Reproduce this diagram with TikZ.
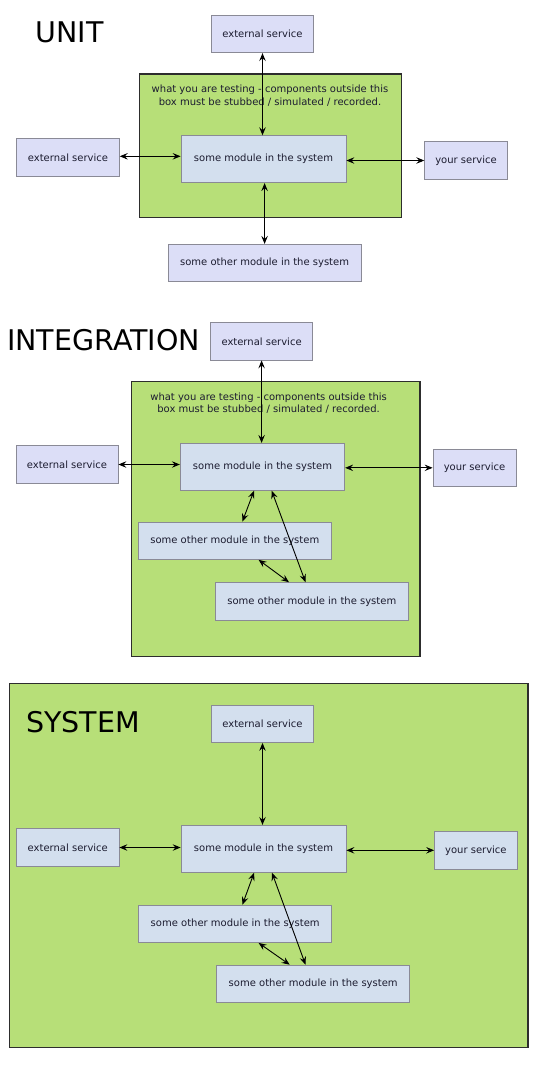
\documentclass[tikz,border=0pt]{standalone}
\usepackage{fontspec}
\setmainfont{DejaVu Sans}
\usetikzlibrary{arrows.meta}
\definecolor{frgreen}{RGB}{183,223,120}
\definecolor{frline}{RGB}{45,45,45}
\definecolor{lav}{RGB}{220,222,247}
\definecolor{bgray}{RGB}{211,223,238}
\definecolor{bline}{RGB}{138,138,150}
\definecolor{txt}{RGB}{28,28,48}
\tikzset{
  x=1pt, y=-1pt,
  frame/.style={draw=frline, line width=1.3pt, fill=frgreen, inner sep=0pt},
  basebox/.style={draw=bline, line width=0.8pt, inner sep=0pt, text=txt,
    font=\fontsize{10}{12}\selectfont, minimum height=37.4pt},
  outbox/.style={basebox, fill=lav},
  inbox/.style={basebox, fill=bgray},
  modbox/.style={basebox, fill=bgray, minimum width=165pt, minimum height=47pt},
  title/.style={anchor=base west, inner sep=0pt, font=\fontsize{28.5}{30}\selectfont, text=black},
  note/.style={align=center, inner sep=0pt, text=txt, font=\fontsize{10}{12.4}\selectfont},
  arr/.style={draw=black, line width=0.9pt, {Stealth[length=8pt,width=6.5pt,inset=3pt]}-{Stealth[length=8pt,width=6.5pt,inset=3pt]}}
}
\begin{document}
\begin{tikzpicture}
\useasboundingbox[fill=white] (0,0) rectangle (540,1080);

% ---------------- UNIT ----------------
\node[title] (u-title) at (35.5,42.7) {UNIT};
\node[frame, minimum width=262.4pt, minimum height=143.7pt] (u-frame) at (270.5,145.85) {};
\node[note] (u-note) at (270,95.5) {what you are testing - components outside this\\box must be stubbed / simulated / recorded.};
\node[outbox, minimum width=102pt] (u-ext-top) at (262.5,34) {external service};
\node[modbox] (u-mod) at (263.5,159.2) {some module in the system};
\node[outbox, minimum width=102.7pt] (u-ext-l) at (68,157.3) {external service};
\node[outbox, minimum width=82.6pt] (u-your) at (466,160.5) {your service};
\node[outbox, minimum width=192.7pt] (u-oth) at (264.6,263) {some other module in the system};
\draw[arr] (u-ext-top.south) -- (u-ext-top.south |- u-mod.north);
\draw[arr] (u-oth.north) -- (u-oth.north |- u-mod.south);
\draw[arr] ([yshift=1pt]u-ext-l.east) -- ([yshift=1pt]u-ext-l.east -| u-mod.west);
\draw[arr] (u-your.west) -- (u-your.west -| u-mod.east);

% ---------------- INTEGRATION ----------------
\node[title] (i-title) at (6.9,350) {INTEGRATION};
\node[frame, minimum width=288.7pt, minimum height=275pt] (i-frame) at (275.7,519) {};
\node[note] (i-note) at (268.6,402.9) {what you are testing - components outside this\\box must be stubbed / simulated / recorded.};
\node[outbox, minimum width=101.7pt] (i-ext-top) at (261.6,341.3) {external service};
\node[modbox, minimum width=164.5pt] (i-mod) at (262.5,466.8) {some module in the system};
\node[outbox, minimum width=102pt] (i-ext-l) at (67,464.5) {external service};
\node[outbox, minimum width=83pt] (i-your) at (474.5,467.8) {your service};
\node[inbox, minimum width=192.4pt] (i-o1) at (234.8,540.7) {some other module in the system};
\node[inbox, minimum width=192.3pt] (i-o2) at (311.8,601.3) {some other module in the system};
\draw[arr] (i-ext-top.south) -- (i-ext-top.south |- i-mod.north);
\draw[arr] (i-ext-l.east) -- (i-ext-l.east -| i-mod.west);
\draw[arr] (i-your.west) -- (i-your.west -| i-mod.east);
\draw[arr] ([xshift=-8.5pt]i-mod.south) -- ([xshift=7.6pt]i-o1.north);
\draw[arr] ([xshift=9.2pt]i-mod.south) -- ([xshift=-6.3pt]i-o2.north);
\draw[arr] ([xshift=23.8pt]i-o1.south) -- ([xshift=-22.8pt]i-o2.north);

% ---------------- SYSTEM ----------------
\node[frame, minimum width=518.3pt, minimum height=364.2pt] (s-frame) at (268.85,865.6) {};
\node[title] (s-title) at (25.9,732.3) {SYSTEM};
\node[inbox, minimum width=102pt] (s-ext-top) at (262.5,723.8) {external service};
\node[modbox] (s-mod) at (263.5,848.8) {some module in the system};
\node[inbox, minimum width=102.4pt] (s-ext-l) at (67.8,847.5) {external service};
\node[inbox, minimum width=82.7pt] (s-your) at (475.9,850.3) {your service};
\node[inbox, minimum width=193pt] (s-o1) at (235.2,923.8) {some other module in the system};
\node[inbox, minimum width=193pt] (s-o2) at (313.2,983.8) {some other module in the system};
\draw[arr] (s-ext-top.south) -- (s-ext-top.south |- s-mod.north);
\draw[arr] (s-ext-l.east) -- (s-ext-l.east -| s-mod.west);
\draw[arr] (s-your.west) -- (s-your.west -| s-mod.east);
\draw[arr] ([xshift=-9.4pt]s-mod.south) -- ([xshift=7.2pt]s-o1.north);
\draw[arr] ([xshift=8.5pt]s-mod.south) -- ([xshift=-7.7pt]s-o2.north);
\draw[arr] ([xshift=23.4pt]s-o1.south) -- ([xshift=-23.5pt]s-o2.north);
\end{tikzpicture}
\end{document}
